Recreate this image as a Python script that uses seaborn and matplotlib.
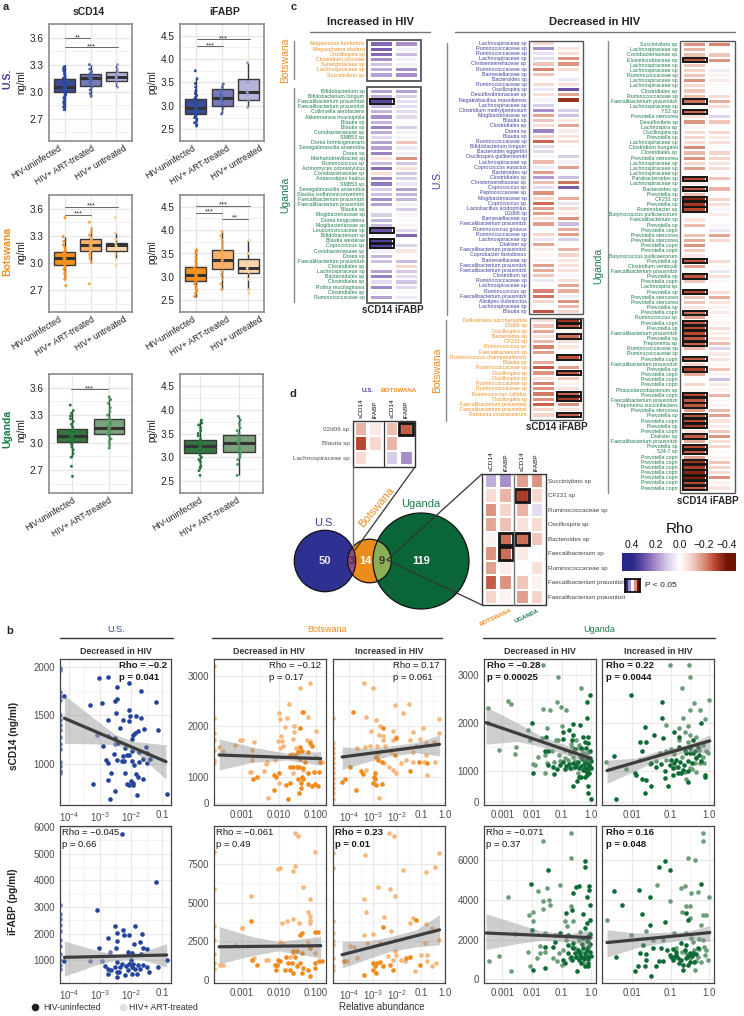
import numpy as np
import pandas as pd
import matplotlib
matplotlib.use('Agg')
import matplotlib.pyplot as plt
import seaborn as sns
from matplotlib.colors import LinearSegmentedColormap
from matplotlib.patches import Rectangle, Circle
from matplotlib.transforms import ScaledTranslation

W, H = 744, 1016

# ---- panel a: 5-number boxes (min, q1, median, q3, max) and strip values ----
groups3 = ['HIV-uninfected', 'HIV+ ART-treated', 'HIV+ untreated']
groups2 = groups3[:2]

us_s_box = [[2.80, 3.00, 3.05, 3.14, 3.28], [2.95, 3.06, 3.15, 3.20, 3.30], [3.05, 3.12, 3.165, 3.22, 3.30]]
us_i_box = [[2.57, 2.83, 2.96, 3.14, 3.58], [2.83, 3.00, 3.17, 3.37, 3.47], [2.97, 3.13, 3.29, 3.58, 3.92]]
bw_s_box = [[2.82, 2.98, 3.055, 3.116, 3.29], [3.00, 3.13, 3.20, 3.26, 3.38], [3.04, 3.13, 3.20, 3.225, 3.33]]
bw_i_box = [[2.58, 2.91, 3.04, 3.22, 3.58], [2.73, 3.16, 3.37, 3.58, 3.97], [2.73, 3.09, 3.18, 3.39, 3.78]]
ug_s_box = [[2.84, 3.01, 3.07, 3.15, 3.35], [2.94, 3.09, 3.16, 3.26, 3.50]]
ug_i_box = [[2.76, 3.10, 3.24, 3.37, 3.78], [2.62, 3.11, 3.31, 3.47, 3.86]]

us_s_pts = [[2.80, 2.83, 2.85, 2.87, 2.89, 2.91, 2.93, 2.95, 2.96, 2.97, 2.98, 3.0, 3.0, 3.01, 3.02, 3.03, 3.03, 3.04, 3.05,
             3.05, 3.06, 3.07, 3.08, 3.09, 3.1, 3.11, 3.12, 3.14, 3.15, 3.17, 3.19, 3.21, 3.23, 3.25, 3.27, 3.28],
            [2.95, 2.98, 3.02, 3.05, 3.08, 3.1, 3.12, 3.14, 3.15, 3.16, 3.18, 3.2, 3.22, 3.25, 3.3],
            [3.05, 3.1, 3.14, 3.16, 3.18, 3.22, 3.25, 3.3]]
us_i_pts = [[2.57, 2.6, 2.64, 2.68, 2.72, 2.75, 2.78, 2.8, 2.83, 2.85, 2.88, 2.9, 2.93, 2.95, 2.97, 3.0, 3.02, 3.05, 3.08,
             3.1, 3.14, 3.18, 3.22, 3.26, 3.3, 3.33, 3.4, 3.48, 3.58, 3.75],
            [2.83, 2.95, 3.02, 3.1, 3.15, 3.2, 3.25, 3.33, 3.4, 3.47],
            [2.97, 3.13, 3.25, 3.3, 3.5, 3.92]]
bw_s_pts = [[2.75, 2.82, 2.85, 2.88, 2.9, 2.93, 2.95, 2.97, 2.99, 3.0, 3.01, 3.02, 3.03, 3.04, 3.05, 3.06, 3.07, 3.08, 3.09,
             3.1, 3.11, 3.12, 3.14, 3.17, 3.2, 3.24, 3.29, 3.5],
            [2.77, 3.01, 3.05, 3.08, 3.1, 3.13, 3.15, 3.17, 3.18, 3.2, 3.21, 3.22, 3.24, 3.26, 3.28, 3.31, 3.34, 3.38, 3.45],
            [2.97, 3.04, 3.1, 3.15, 3.19, 3.22, 3.26, 3.33, 3.5]]
bw_i_pts = [[2.58, 2.65, 2.7, 2.75, 2.8, 2.85, 2.9, 2.93, 2.97, 3.0, 3.03, 3.05, 3.08, 3.12, 3.15, 3.2, 3.25, 3.3, 3.35,
             3.42, 3.5, 3.55, 3.58],
            [2.73, 2.85, 2.95, 3.05, 3.12, 3.2, 3.28, 3.35, 3.4, 3.46, 3.52, 3.58, 3.65, 3.72, 3.8, 3.88, 3.97],
            [2.65, 2.73, 2.95, 3.1, 3.18, 3.3, 3.5, 3.78]]
ug_s_pts = [[2.63, 2.74, 2.84, 2.88, 2.92, 2.95, 2.98, 3.0, 3.02, 3.04, 3.05, 3.06, 3.07, 3.08, 3.09, 3.1, 3.11, 3.12, 3.14,
             3.17, 3.2, 3.23, 3.26, 3.29, 3.32, 3.35, 3.41],
            [2.94, 2.98, 3.01, 3.04, 3.07, 3.09, 3.11, 3.13, 3.15, 3.16, 3.18, 3.2, 3.22, 3.24, 3.26, 3.3, 3.34, 3.38, 3.43, 3.47, 3.5]]
ug_i_pts = [[2.62, 2.72, 2.78, 2.82, 2.9, 2.95, 3.0, 3.05, 3.1, 3.13, 3.16, 3.2, 3.23, 3.25, 3.28, 3.3, 3.34, 3.38, 3.45,
             3.5, 3.56, 3.62, 3.68, 3.72, 3.78],
            [2.62, 2.85, 2.95, 3.0, 3.05, 3.1, 3.15, 3.2, 3.25, 3.3, 3.34, 3.38, 3.44, 3.5, 3.56, 3.62, 3.7, 3.78, 3.86]]

# ---- panel b: log10 abundance, value pairs ----
us_top_neg = [(-3.03,1890),(-2.74,1900),(-2.44,1796),(-2.06,1831),(-1.68,1752),(-1.2,1641),(-2.46,1669),(-2.52,1648),(-2.94,1624),(-3.32,1607),(-4.15,1700),
    (-2.05,1555),(-2.47,1520),(-2.03,1496),(-1.85,1493),(-1.69,1469),(-2.25,1451),(-2.73,1451),(-2.05,1441),(-1.13,1348),(-1.58,1358),(-2.35,1365),(-1.76,1338),(-1.87,1320),(-1.95,1296),
    (-1.98,1255),(-2.52,1262),(-2.41,1217),(-2.89,1182),(-1.52,1168),(-2.19,1165),(-2.55,1096),(-1.98,1134),(-2.05,1089),(-1.73,1124),(-1.49,1107),(-2.81,1037),(-2.75,1010),(-2.46,1037),
    (-2.3,1027),(-2.22,1027),(-2.14,1089),(-2.27,1079),(-1.98,1031),(-1.9,982),(-1.73,1013),(-1.6,1044),(-1.49,1010),(-1.38,1044),(-2.64,903),(-2.19,903),(-1.84,893),(-1.76,865),(-2.73,830),
    (-1.62,841),(-3.22,786),(-2.12,786),(-2.01,820),(-1.95,796),(-2.05,779),(-1.92,779),(-2.53,713),(-1.82,672),(-0.85,686),(-2.68,637)]
us_top_art = [(-3.09,1300),(-2.73,1286),(-2.52,1200)]
us_top_zero = [1990,1965,1740,1700,1660,1500,1450,1400,1350,1280,1200,1150,1020,980,920,900]

us_bot_neg = [(-2.3,5750),(-1.2,3925),(-3.1,2875),(-2.53,2290),(-1.86,2290),(-2.25,2125),(-2.46,2040),(-2.23,1960),(-2.06,1960),(-1.63,2000),(-2.73,1850),(-2.46,1725),(-1.9,1625),(-1.71,1690),
    (-2.49,1475),(-3.03,1475),(-1.6,1475),(-1.49,1440),(-4.16,960),(-2.09,1310),(-1.98,1275),(-1.69,1225),(-0.85,1000),(-1.13,750),(-2.84,790),(-2.73,690),(-2.73,500),(-2.65,650),(-2.52,750),
    (-2.44,375),(-2.46,560),(-2.38,560),(-2.35,750),(-2.19,440),(-2.09,625),(-2.05,875),(-1.98,750),(-1.98,500),(-1.87,690),(-1.82,500),(-1.76,810),(-1.71,690),(-1.6,810),(-1.49,750),(-1.41,560),
    (-2.17,775),(-2.28,875),(-1.92,875),(-2.01,1000),(-2.44,940)]
us_bot_art = [(-3.32,960),(-2.95,960),(-2.68,1310)]
us_bot_zero = [3060,2750,2560,2310,2100,1775,1525,1250,1000,810,690]

bd_top_neg = [(-1.35,2290),(-1.42,1960),(-1.15,1664),(-1.11,1612),(-1.42,1598),(-1.38,1520),(-1.47,1500),(-1.56,1434),(-1.69,1434),(-1.2,1500),(-0.88,1302),(-1.42,1348),(-1.29,1302),(-1.69,1204),
    (-1.6,1204),(-1.5,1190),(-1.44,1204),(-1.33,1171),(-1.2,1085),(-1.05,1105),(-0.92,1105),(-2.14,1039),(-1.98,1072),(-2.07,993),(-2.59,1006),(-2.7,954),(-1.38,1006),(-1.47,954),(-1.33,954),
    (-1.4,875),(-1.81,842),(-1.69,875),(-1.2,862),(-1.11,829),(-0.93,829),(-1.02,855),(-1.39,776),(-2.13,743),(-1.44,677),(-1.75,565)]
bd_top_art = [(-1.14,2862),(-1.42,2757),(-1.71,2441),(-1.37,2289),(-2,2256),(-1.96,2138),(-1.77,2158),(-1.2,2184),(-1.83,1980),(-1.59,2006),(-1.59,1895),(-0.98,1908),(-1.95,1816),(-2.01,1717),
    (-1.92,1717),(-1.62,1750),(-1.24,1730),(-1.14,1717),(-1.87,1612),(-1.96,1566),(-1.53,1566),(-2.73,1533),(-2.73,1335),(-2.32,1302),(-2.34,1256),(-2.41,1118),(-2.75,1105),(-2.1,1335),(-1.65,1454),
    (-1.42,1533),(-0.99,1401),(-0.84,1302),(-1.6,1072),(-2.28,592),(-1.98,888),(-1.2,1072),(-1.33,1138),(-2.67,1697),(-3.05,1730),(-3.61,1598),(-3.51,1520),(-3.18,1631),(-2.99,1730),(-2.78,1105)]
bd_top_zero = [3197,2158,1862,1730,1533,1335,1270]

bi_top_neg = [(-3.81,2289),(-2.57,1960),(-1.47,1125),(-2.89,1388),(-2.64,1302),(-2.09,1434),(-2.02,1763),(-1.08,1302),(-0.74,1270),(-2.78,1335),(-3.95,1204),(-3.5,1125),(-3.42,1059),(-2.91,1072),
    (-2.94,1006),(-2.91,954),(-4.29,895),(-4.14,960),(-3.01,875),(-2.89,842),(-2.61,855),(-3.7,743)]
bi_top_art = [(-3.35,2862),(-3.01,2757),(-2.09,2421),(-1.5,2441),(-1.74,2256),(-3.27,2184),(-2.89,2125),(-3.08,1908),(-2.71,2006),(-2.76,1829),(-2.57,1816),(-2.18,1908),(-1.33,1895),(-0.93,1974),
    (-0.23,2151),(-0.23,1875),(-2.05,1783),(-2.16,1730),(-1.47,1730),(-1.06,1743),(-3.33,1598),(-3.12,1612),(-2.84,1612),(-2.5,1618),(-2.6,1730),(-0.78,1664),(-0.44,1697),(-1.19,1612),(-3.67,1566),
    (-2.23,1500),(-2.78,1467),(-1.33,1500),(-1.33,1302),(-0.81,1434),(-1.61,1335),(-1.81,1270),(-0.89,1302),(-0.4,1302),(-2.54,1270),(-2.16,1138),(-2.32,1204),(-2.02,1072),(-0.75,1039),(-2.73,592),(-3.3,1138)]
bi_top_zero = [2158,1664,1566,1467,1368,1270,1171,1072,973,875,776,677,565]

bd_bot_neg = [(-2.75,3850),(-1.38,3040),(-0.93,3100),(-1.02,3100),(-1.42,2930),(-1.15,2080),(-1.6,1860),(-1.51,1860),(-1.38,1750),(-2.01,1330),(-1.96,1240),(-2.1,1010),(-2.07,680),(-1.8,1500),(-1.74,1110),
    (-1.65,1110),(-1.56,1500),(-1.69,680),(-1.83,680),(-1.42,1110),(-1.51,900),(-1.33,790),(-1.2,680),(-1.38,470),(-1.15,260),(-1.02,790),(-0.91,1220),(-0.84,1220),(-1.02,1110),(-2.59,1010),(-2.73,1330),
    (-1.6,470),(-2.05,1010)]
bd_bot_art = [(-1.56,9460),(-1.49,9290),(-1.02,8240),(-1.56,7360),(-1.62,7060),(-1.96,7210),(-2.01,7150),(-1.33,6030),(-1.14,5220),(-2.75,5440),(-3,3360),(-1.2,4370),(-1.15,4110),(-1.15,3890),(-1.14,3680),
    (-1.6,3940),(-1.77,3830),(-1.92,3680),(-1.46,3680),(-1.96,2460),(-1.87,2350),(-1.2,2440),(-2.28,1330),(-2.34,1280),(-2.68,1430),(-2.73,1280),(-1.6,1750),(-1.69,1500),(-1.02,1750),(-3.58,963),(-3.5,963),
    (-3.18,2290),(-2.99,3400)]
bd_bot_zero = [8260,5880,3470,2610,1690,1110,750]

bi_bot_neg = [(-2.6,3420),(-1.19,3890),(-3.37,360),(-2.89,470),(-3.01,680),(-2.84,1110),(-2.71,1160),(-2.57,900),(-2.98,1110),(-2.91,900),(-2.16,680),(-1.47,1500),(-1.61,1430),(-1.06,1010),(-4.22,1220),(-2.29,1010)]
bi_bot_art = [(-2.32,9460),(-2.12,9290),(-3.33,8070),(-0.23,8220),(-0.41,7320),(-0.78,7000),(-1.74,7100),(-2.8,6030),(-2.29,5860),(-2.09,5440),(-3.35,5220),(-3.27,4370),(-2.54,4070),(-1.33,4000),(-1.47,3720),
    (-0.78,3640),(-0.55,3360),(-3.01,3000),(-3.39,2930),(-2.23,3150),(-3.26,2400),(-3.94,2230),(-3.78,2140),(-2.71,2400),(-2.09,2610),(-0.23,2570),(-0.82,2400),(-2.09,1860),(-2.02,1650),(-2.36,1540),(-1.81,1330),
    (-1.65,1220),(-0.99,1650),(-0.74,1650),(-0.74,1220),(-0.53,900),(-0.37,1110),(-1.26,580),(-3.67,1430),(-4.08,1220),(-2.16,1280)]
bi_bot_zero = [8220,7210,3790,3040,2290,1430,900,680,2500]

ud_top_neg = [(-0.04,2570),(-0.13,2435),(-0.13,2095),(-2.01,1990),(-0.6,1970),(-0.38,1950),(-0.74,1850),(-0.97,1815),(-0.6,1745),(-0.27,1710),(-0.1,1710),(-1.53,1695),(-0.94,1655),(-0.66,1640),(-0.21,1605),(-0.1,1570),
    (-1.56,1400),(-1.45,1400),(-0.04,1410),(-0.33,1325),(-1.45,1120),(-1.28,1085),(-1.17,1035),(-1.98,960),(-1.25,925),(-0.89,1035),(-0.72,1050),(-0.55,1085),(-0.21,1190),(-0.1,1150),(-0.04,1085),(-0.33,1095),
    (-0.21,1050),(-0.1,1030),(-0.02,1190),(-0.33,875),(-0.21,860),(-0.41,875),(-0.6,685),(-0.47,790),(-0.1,680),(-0.12,540),(-0.02,410),(-0.16,945),
    (-0.45,1180),(-0.3,1240),(-0.25,1130),(-0.15,1240),(-0.08,1120),(-0.02,1060),(-0.18,990),(-0.28,1010),(-0.4,1050),(-0.5,1120),(-0.62,1160),(-0.75,1130),(-0.85,1100),(-0.95,1180),(-1.05,1120),(-0.07,960),(-0.13,900),(-0.03,1270),(-0.55,1450),(-0.35,1480),(-0.18,1480)]
ud_top_art = [(-1.62,3195),(-1.13,2950),(-0.35,2720),(-2.8,2460),(-2.72,2390),(-1.64,2290),(-1.39,2270),(-1.17,2430),(-1.03,2320),(-0.85,2270),(-2.15,1850),(-1.48,1885),(-3.11,1420),(-2.57,1340),(-2.54,1490),(-2.07,1640),
    (-1.67,1675),(-1.2,1640),(-1.11,1640),(-1,1930),(-1.79,1290),(-1.56,1330),(-1.96,1140),(-1.9,1120),(-1.56,940),(-1.51,1150),(-1.06,1190),(-1.34,1400),(-0.89,1430),(-0.72,1360),(-0.6,1290),(-0.43,1540),(-0.38,1290),
    (-0.66,1500),(-0.27,1360),(-0.78,1220),(-0.43,1500),(-3.49,2300),(-3.49,1990),(-0.16,1360),
    (-0.55,1210),(-0.65,1060),(-0.9,1260),(-1.1,1330),(-1.25,1180),(-0.45,960),(-0.3,1440),(-0.15,1070),(-0.7,1560),(-0.5,1640)]

ui_top_neg = [(-2.03,2570),(-1.22,2435),(-1.23,2095),(-1.67,1900),(-0.2,2000),(-1.43,1745),(-1.2,1675),(-0.9,1815),(-0.77,1710),(-1.81,1605),(-1.63,1590),(-1.75,1410),(-2.48,1305),(-2.43,410),(-0.54,755),(-1.67,540),
    (-1.5,680),(-1.07,685),(-1.16,840),(-1.63,805),(-1.76,820),(-1.9,910),(-1.92,960),(-1.37,1085),(-1.03,1120),(-0.9,1150),(-0.81,1085),(-0.94,1050),(-0.68,1015),(-0.72,945),(-0.59,1360),(-0.5,1360),(-0.42,1360),(-0.77,1500),
    (-0.42,1640),(-0.11,910),(-0.11,875),(-0.29,1500),(-0.37,1400),
    (-1.0,1230),(-0.85,1230),(-0.75,1180),(-0.65,1120),(-0.55,1210),(-0.45,1150),(-0.35,1270),(-0.62,1420),(-0.5,1480),(-0.25,1320),(-0.2,1210),(-1.25,1130),(-1.15,1000),(-0.55,1000),(-0.8,960),(-1.5,1150),(-0.95,900)]
ui_top_art = [(-1.03,3195),(-0.52,3195),(-0.5,2950),(-0.71,2720),(0,2470),(-0.5,2270),(-0.39,2410),(-0.23,2270),(-0.68,2095),(-0.11,2075),(-1.11,1955),(-0.77,1885),(-0.55,1920),(-0.63,1815),(-0.5,1745),(-2.68,1175),(-2.16,1030),
    (-1.81,1220),(-1.55,1140),(-1.37,1190),(-1.29,1360),(-1.11,1400),(-0.77,1640),(-0.5,1500),(-0.16,1535),(-0.07,1400),(-0.33,1290),(-0.37,1150),(-0.5,1050),(-0.63,980),(-0.85,1085),(-1.11,1220),(-0.03,1360),(-0.24,1150),(-0.33,980),
    (-0.45,1030),(-0.7,1280),(-0.25,1430),(-0.15,1280),(-0.9,1350),(-0.55,1600),(-0.35,1700),(-0.12,1150),(-1.0,1450),(-0.6,830)]

ud_bot_neg = [(-0.2,5960),(-0.2,5660),(-1.47,5490),(-2.02,4810),(-0.52,4660),(-0.4,4710),(-0.08,4490),(-0.08,4710),(-0.63,4330),(-0.16,4160),(-0.04,3710),(-0.65,3490),(-0.85,3320),(-0.29,3270),(-0.04,2990),(-0.16,2820),
    (-0.2,2570),(-2.01,2490),(-0.78,2240),(-1.06,2320),(-1.22,1900),(-1.56,1650),(-0.78,1740),(-0.6,1570),(-0.43,1400),(-0.27,1570),(-0.1,1650),(-0.04,1400),(-0.2,1320),(-0.38,1240),(-0.55,1320),(-0.78,1320),(-1.28,1650),
    (-1.95,480),(-1.56,570),(-0.94,985),(-0.89,820),(-0.47,430),(-0.2,650),(-0.1,650),(-0.33,820),
    (-0.5,1100),(-0.35,1100),(-0.25,1130),(-0.12,1130),(-0.02,1190),(-0.7,1130),(-0.45,1480),(-0.15,1480),(-0.05,1800),(-0.3,1800),(-0.15,1950),(-0.6,1850),(-0.1,1020),(-0.25,1010),(-0.4,980),(-0.12,820),(-0.65,950),(-0.03,2300),(-0.28,2100),(-0.12,2180)]
ud_bot_art = [(-0.7,7350),(-1.62,6950),(-0.7,6080),(-1.06,4740),(-1.79,4440),(-1.48,4580),(-2.81,4160),(-1.62,3960),(-1.42,3990),(-1.39,3720),(-1.62,3520),(-2.09,3240),(-1.96,3360),(-1.98,2920),(-0.7,3690),(-0.89,2910),(-0.6,2910),
    (-0.83,2660),(-2.57,2290),(-1.56,2320),(-1.22,2240),(-1.73,1690),(-2.15,1400),(-3.11,1200),(-2.07,650),(-2.72,430),(-1.84,1070),(-1.56,1400),(-1.28,1070),(-1.17,900),(-1,730),(-0.72,1070),(-0.55,1570),(-0.27,820),(-0.1,1990),
    (-0.43,1990),(-0.38,2400),(-3.45,900),(-1.73,1320),
    (-0.35,1400),(-0.65,1650),(-1.1,1350),(-0.95,1480),(-0.05,2150),(-0.5,1150),(-0.15,1250),(-0.85,2000)]

ui_bot_neg = [(-1.14,5960),(-1.3,5640),(-1.03,5490),(-2.48,4440),(-1.83,4490),(-0.2,4810),(-1.55,4160),(-2.27,3720),(-1.76,3260),(-1.16,2860),(-1.55,2740),(-0.55,2990),(-0.59,3320),(-2.43,1120),(-1.65,985),(-1.92,400),(-1.5,150),
    (-1.85,650),(-1.68,650),(-1.37,650),(-1.2,900),(-0.94,985),(-0.85,1240),(-1.03,1240),(-0.68,730),(-0.68,480),(-0.5,1320),(-0.42,1320),(-0.85,1400),(-0.72,1820),(-0.59,1740),(-1.81,1320),(-1.63,1290),(-1.46,1570),(-1.24,1570),(-1.72,1740),
    (-1.0,1100),(-0.9,1120),(-0.8,1080),(-0.72,950),(-0.6,1050),(-0.55,1180),(-0.45,1180),(-0.35,1300),(-0.3,1600),(-0.62,1500),(-0.55,700),(-0.78,830),(-1.1,1500),(-0.95,1550),(-0.4,850),(-1.3,900),(-0.5,880)]
ui_bot_art = [(-0.16,7350),(-0.16,6950),(-0.55,6080),(-0.37,6000),(-1.35,4740),(-0.72,4580),(-0.63,4710),(-0.46,4330),(-0.29,4410),(0,4160),(-1.03,3960),(-0.59,3690),(-0.5,3660),(-0.7,3360),(-0.5,3070),(-0.16,3240),(-0.07,3240),(-0.2,2740),
    (-2.66,2990),(-2.03,2240),(-1.63,2450),(-1.46,1990),(-1.2,1990),(-0.9,2320),(-0.59,2320),(-0.42,1900),(-0.16,1990),(-0.07,1490),(-0.03,985),(-0.33,900),(-0.5,1070),(-0.37,480),(-0.59,1320),(-0.85,1570),(-0.11,1240),
    (-0.25,1550),(-0.3,1100),(-0.2,850),(-0.12,1650),(-0.4,1500),(-0.55,1150),(-0.7,1400),(-0.25,2050),(-0.48,2100)]

# fit line ends and confidence band
us_top_fit = ([-4.15, -0.87], [1470, 1020])
us_top_band = ([-4.15, -3.2, -2.5, -1.9, -0.87], [1210, 1205, 1195, 1130, 840], [1710, 1470, 1300, 1230, 1195])
us_bot_fit = ([-4.15, -0.85], [1112, 1200])
us_bot_band = ([-4.15, -3.2, -2.5, -1.7, -0.85], [400, 800, 1000, 1040, 750], [1725, 1400, 1220, 1290, 1625])
bd_top_fit = ([-3.61, -0.86], [1434, 1362])
bd_top_band = ([-3.61, -2.7, -1.8, -0.86], [1138, 1290, 1335, 1236], [1750, 1590, 1470, 1500])
bi_top_fit = ([-4.28, -0.23], [1395, 1645])
bi_top_band = ([-4.28, -3.2, -2.3, -1.2, -0.23], [1151, 1300, 1414, 1480, 1414], [1598, 1560, 1610, 1680, 1829])
bd_bot_fit = ([-3.61, -0.86], [2160, 2230])
bd_bot_band = ([-3.61, -2.7, -2.0, -0.86], [1070, 1600, 1900, 1430], [3470, 2800, 2500, 2820])
bi_bot_fit = ([-4.28, -0.23], [1650, 3250])
bi_bot_band = ([-4.28, -3.2, -2.3, -1.2, -0.23], [790, 1380, 1860, 2150, 2290], [2500, 2530, 2800, 3250, 4220])
ud_top_fit = ([-3.55, -0.04], [2000, 1257])
ud_top_band = ([-3.55, -2.5, -1.7, -0.7, -0.04], [1550, 1610, 1500, 1300, 1153], [2330, 2000, 1720, 1500, 1397])
ui_top_fit = ([-2.66, 0.02], [1000, 1620])
ui_top_band = ([-2.66, -1.9, -1.37, -0.6, 0.02], [735, 1000, 1220, 1380, 1375], [1220, 1260, 1400, 1530, 1745])
ud_bot_fit = ([-3.55, -0.04], [2330, 2100])
ud_bot_band = ([-3.55, -2.5, -1.7, -0.7, -0.04], [1500, 1800, 1960, 1900, 1570], [3300, 2800, 2430, 2300, 2490])
ui_bot_fit = ([-2.66, 0.02], [1850, 2350])
ui_bot_band = ([-2.66, -1.9, -1.37, -0.6, 0.02], [1120, 1580, 1780, 2000, 1900], [2490, 2330, 2350, 2400, 2690])

# ---- panel c ----
ci_bw_names = ['Megamonas funiformis', 'Megasphaera elsdenii', 'Oscillospira sp', 'Clostridium citroniae',
               'Synergistaceae sp', 'Lachnospiraceae sp', 'Succinivibrio sp']
ci_bw_s = [.26, .28, .26, .2, .12, .15, .17]
ci_bw_i = [.2, .03, .13, .03, .03, .2, .2]
ci_bw_sig = []

ci_ug_names = ['Bifidobacterium sp', 'Bifidobacterium longum', 'Faecalibacterium prausnitzii', 'Faecalibacterium prausnitzii',
    'Collinsella aerofaciens', 'Akkermansia muciniphila', 'Blautia sp', 'Blautia sp', 'Coriobacteriaceae sp', 'SMB53 sp',
    'Dorea formicigenerans', 'Senegalimassilia anaerobia', 'Dorea sp', 'Methanobrevibacter sp', 'Ruminococcus sp',
    'Actinomyces odontolyticus', 'Coriobacteriaceae sp', 'Anaerostipes hadrus', 'SMB53 sp', 'Senegalimassilia anaerobia',
    'Slackia isoflavoniconvertens', 'Faecalibacterium prausnitzii', 'Faecalibacterium prausnitzii', 'Blautia sp',
    'Mogibacteriaceae sp', 'Dorea longicatena', 'Mogibacteriaceae sp', 'Leuconostocaceae sp', 'Bifidobacterium sp',
    'Blautia wexlerae', 'Coprococcus sp', 'Coriobacteriaceae sp', 'Dorea sp', 'Faecalibacterium prausnitzii', 'Clostridiales sp',
    'Lachnospiraceae sp', 'Bacteroidales sp', 'Clostridiales sp', 'Rothia mucilaginosa', 'Clostridiales sp', 'Ruminococcaceae sp']
ci_ug_s = [.17, .15, .33, .13, .14, .2, .14, .22, .15, .08, .17, .17, .22, -.06, .13, .25, -.08, .22, .24, .1, .12, .2, .17, .01,
           .1, .14, .13, .3, .03, .34, .34, .03, .14, .12, 0, .17, .22, .07, .21, .02, .17]
ci_ug_i = [.17, .1, .07, .07, .07, .08, 0, .1, .03, .02, -.12, .05, .03, -.2, .11, -.07, .11, .1, .05, .17, .14, .14, .03, .1,
           .02, .01, -.03, .09, .27, 0, .09, -.06, .01, .13, -.09, .11, .08, .11, .08, .01, .04]
ci_ug_sig = [2, 27, 29, 30]

cd_us_names = ['Lachnospiraceae sp', 'Ruminococcaceae sp', 'Ruminococcaceae sp', 'Lachnospiraceae sp', 'Christensenellaceae sp',
    'Ruminococcaceae sp', 'Barnesiellaceae sp', 'Bacteroides sp', 'Ruminococcaceae sp', 'Oscillospira sp', 'Desulfovibrionaceae sp',
    'Negativibacillus massiliensis', 'Lachnospiraceae sp', 'Clostridium methylpentosum', 'Mogibacteriaceae sp', 'Blautia sp',
    'Clostridiales sp', 'Dorea sp', 'Blautia sp', 'Ruminococcaceae sp', 'Bifidobacterium longum', 'Bacteroides eggerthii',
    'Oscillospira guilliermondii', 'Lachnospiraceae sp', 'Coprococcus eutactus', 'Bacteroides sp', 'Clostridiales sp',
    'Christensenellaceae sp', 'Coprococcus sp', 'Peptococcaceae sp', 'Mogibacteriaceae sp', 'Coprococcus sp', 'Lactobacillus acidophilus',
    '02d06 sp', 'Barnesiellaceae sp', 'Faecalibacterium prausnitzii', 'Ruminococcus gnavus', 'Ruminococcaceae sp', 'Lachnospiraceae sp',
    'Dialister sp', 'Faecalibacterium prausnitzii', 'Coprobacter fastidiosus', 'Barnesiellaceae sp', 'Faecalibacterium prausnitzii',
    'Faecalibacterium prausnitzii', 'Clostridium sp', 'Ruminococcaceae sp', 'Lachnospiraceae sp', 'Ruminococcus sp',
    'Faecalibacterium prausnitzii', 'Alistipes indistinctus', 'Lachnospiraceae sp', 'Blautia sp']
cd_us_s = [-.08, .2, .06, .07, -.12, -.22, -.12, 0, -.08, .05, -.07, .02, .1, .2, -.17, -.12, -.07, .22, -.1, -.26, .08, .08, .02,
           -.14, .04, -.18, .18, -.13, .07, -.2, -.09, -.25, -.18, -.18, -.07, -.18, 0, -.1, .05, -.17, -.04, -.02, -.03, -.18,
           -.16, -.12, .05, -.01, -.22, -.24, -.1, 0, -.28]
cd_us_i = [0, -.06, -.08, -.2, -.2, -.08, 0, .05, -.07, .3, -.17, -.34, 0, .1, .12, -.05, -.17, -.05, -.06, -.09, -.01, 0, .1, .03,
           -.18, 0, .12, -.24, .28, 0, -.16, .06, -.09, -.04, -.2, .13, -.16, -.18, .1, 0, -.15, -.1, -.06, -.07, -.07, .02, -.07,
           -.17, -.16, .04, -.2, -.14, -.1]

cd_bw_names = ['Defluviitalea saccharophila', '02d06 sp', 'Oscillospira sp', 'Bacteroides sp', 'CF231 sp', 'Ruminococcus sp',
    'Faecalibacterium sp', 'Ruminococcus champanellensis', 'Blautia sp', 'Ruminococcaceae sp', 'Oscillospira sp', 'Oscillospira sp',
    'Ruminococcaceae sp', 'Ruminococcaceae sp', 'Ruminococcus callidus', 'Oscillospira sp', 'Faecalibacterium prausnitzii',
    'Faecalibacterium prausnitzii', 'Ralstonia solanacearum']
cd_bw_s = [-.07, -.13, -.17, -.07, -.14, -.22, -.18, -.01, -.16, -.27, -.2, -.07, -.22, -.2, -.23, -.2, -.26, -.1, -.1]
cd_bw_i = [-.34, -.28, -.03, -.25, -.07, -.06, 0, -.29, 0, -.18, -.28, -.12, -.03, -.07, -.26, -.32, -.2, -.06, -.27]
cd_bw_sig = [0, 1, 3, 7, 10, 14, 15, 18]

cd_ug_names = ['Succinivibrio sp', 'Lachnospiraceae sp', 'Coriobacteriaceae sp', 'Elusimicrobiaceae sp', 'Lachnospiraceae sp',
    'Lachnospiraceae sp', 'Ruminococcaceae sp', 'Lachnospiraceae sp', 'Lachnospiraceae sp', 'Clostridiales sp', 'Ruminococcaceae sp',
    'Faecalibacterium prausnitzii', 'Lachnospiraceae sp', 'YS2 sp', 'Prevotella stercorea', 'Desulfovibrio sp', 'Lachnospira sp',
    'Oscillospira sp', 'Prevotella sp', 'Lachnospiraceae sp', 'Clostridium hungatei', 'Clostridiales sp', 'Prevotella stercorea',
    'Lachnospiraceae sp', 'Lachnospiraceae sp', 'Lachnospiraceae sp', 'Parabacteroides sp', 'Lachnospiraceae sp', 'Bacteroides sp',
    'Prevotella sp', 'CF231 sp', 'Prevotella sp', 'Ruminobacter sp', 'Butyricicoccus pullicaecorum', 'Faecalibacterium sp',
    'Prevotella sp', 'Prevotella copri', 'Prevotella stercorea', 'Prevotella stercorea', 'Prevotella copri', 'Prevotella copri',
    'Butyricicoccus pullicaecorum', 'Prevotella sp', 'Clostridium ventriculi', 'Faecalibacterium prausnitzii', 'Prevotella sp',
    'Prevotella copri', 'Lachnospira sp', 'Prevotella sp', 'Prevotella stercorea', 'Prevotella stercorea', 'Prevotella sp',
    'Prevotella copri', 'Ruminococcus sp', 'Prevotella copri', 'Prevotella sp', 'Faecalibacterium prausnitzii', 'Prevotella sp',
    'Treponema sp', 'Ruminococcaceae sp', 'Ruminococcaceae sp', 'Prevotella copri', 'Faecalibacterium prausnitzii', 'Prevotella sp',
    'Prevotella copri', 'Prevotella copri', 'Prevotella copri', 'Phascolarctobacterium sp', 'Prevotella copri',
    'Faecalibacterium prausnitzii', 'Treponema succinifaciens', 'Prevotella stercorea', 'Prevotella sp', 'Prevotella copri',
    'Prevotella sp', 'Prevotella copri', 'Dialister sp', 'Faecalibacterium prausnitzii', 'Prevotella sp', '524-7 sp',
    'Prevotella copri', 'Prevotella copri', 'Prevotella copri', 'Prevotella copri', 'Prevotella copri', 'Prevotella copri', 'Prevotella copri']
cd_ug_s = [-.2, -.15, -.13, -.28, -.12, -.1, -.12, -.2, -.09, -.12, -.13, -.25, -.01, -.26, -.07, -.2, -.03, -.08, -.1, -.08, -.21,
           -.14, -.2, -.1, -.18, 0, -.3, -.04, -.27, -.13, -.37, -.33, -.3, 0, -.06, -.14, 0, -.13, -.16, -.2, -.11, -.05, -.28,
           -.18, -.01, -.28, -.12, 0, -.3, -.12, -.12, -.06, -.25, -.17, -.28, -.3, -.3, -.28, -.26, -.14, 0, -.27, -.1, -.32,
           -.16, 0, -.09, -.02, -.3, -.28, -.28, -.18, -.28, -.3, -.33, -.06, -.27, -.16, -.3, -.28, -.18, -.34, -.32, -.37, -.38, -.3, -.28]
cd_ug_i = [-.22, 0, -.12, -.2, 0, .04, -.03, -.05, -.01, 0, -.08, -.16, -.08, 0, .09, -.12, .01, -.09, -.05, -.07, 0, -.1, -.1, -.06,
           -.08, .01, -.12, 0, -.15, 0, -.1, -.07, .02, -.05, 0, .02, .05, -.17, -.09, 0, 0, 0, -.09, -.01, .05, -.07, -.02, 0,
           -.07, -.16, -.06, -.03, -.05, -.01, -.02, -.08, -.04, -.06, -.14, .09, -.05, -.06, -.02, -.12, -.02, .12, -.05, -.03,
           -.15, -.02, -.03, -.14, -.18, -.06, -.05, -.12, -.2, -.07, -.1, -.01, -.02, -.12, -.1, -.08, -.2, -.03, -.06]
cd_ug_sig = [3, 11, 13, 26, 28, 30, 31, 32, 42, 45, 48, 52, 54, 55, 56, 57, 58, 61, 63, 68, 69, 70, 72, 73, 74, 76, 78, 79, 81, 82, 83, 84, 85, 86]

# ---- panel d ----
d1_names = ['02d06 sp', 'Blautia sp', 'Lachnospiraceae sp']
d1_us = [[-.15, -.05], [-.3, -.09], [-.08, 0]]
d1_bw = [[-.13, -.27], [-.15, 0], [.1, .2]]
d2_names = ['Succinivibrio sp', 'CF231 sp', 'Ruminococcaceae sp', 'Oscillospira sp', 'Bacteroides sp', 'Faecalibacterium sp',
            'Ruminococcaceae sp', 'Faecalibacterium prausnitzii', 'Faecalibacterium prausnitzii']
d2_bw = [[.15, .2], [-.08, -.15], [-.2, -.1], [-.17, -.13], [-.03, -.25], [-.2, -.25], [-.18, -.04], [-.27, -.2], [-.1, -.03]]
d2_ug = [[-.18, -.2], [-.32, -.09], [-.15, .07], [-.07, -.08], [-.25, -.12], [-.05, .005], [0, -.07], [-.12, -.03], [-.18, -.1]]
venn_counts = ['50', '3', '14', '9', '119']
rho_ticks = [.4, .2, 0, -.2, -.4]
rho_labels = ['0.4', '0.2', '0.0', '\u22120.2', '\u22120.4']

C_US = '#3f3f9f'
C_BW = '#f28c1e'
C_UG = '#1c7d4b'
GREY_TXT = '#4d4d4d'

sns.set_theme(style='whitegrid')
plt.rcParams['font.family'] = ['Liberation Sans', 'DejaVu Sans']
plt.rcParams['mathtext.default'] = 'regular'
plt.rcParams['axes.unicode_minus'] = True

fig = plt.figure(figsize=(W / 100, H / 100), dpi=100)
rho_cmap = LinearSegmentedColormap.from_list(
    'rho', ['#701505', '#b9472f', '#dc9480', '#f5d3c9', '#ffffff', '#d9cee8', '#a88fca', '#6a52a6', '#29298c'])


def px_ax(x0, y0, x1, y1):
    return fig.add_axes([x0 / W, 1 - y1 / H, (x1 - x0) / W, (y1 - y0) / H])


# overlay in pixel units for labels, rules, venn
ov = px_ax(0, 0, W, H)
ov.set_xlim(0, W)
ov.set_ylim(H, 0)
ov.axis('off')
ov.set_zorder(20)


def box_panel(rect, labels, box, pts, fills, dots, ylim, yticks, label_dx, xlim=None):
    ax = px_ax(*rect)
    df = pd.DataFrame({'g': [l for l, b in zip(labels, box) for _ in b], 'v': [v for b in box for v in b]})
    sns.boxplot(data=df, x='g', y='v', hue='g', order=labels, hue_order=labels, palette=fills, saturation=1, width=0.8,
                whis=(0, 100), showcaps=False, showfliers=False, linewidth=1.0, linecolor='#3a3a3a',
                medianprops={'linewidth': 2.2, 'color': '#333333'}, legend=False, ax=ax)
    dp = pd.DataFrame({'g': [l for l, p in zip(labels, pts) for _ in p], 'v': [v for p in pts for v in p]})
    sns.stripplot(data=dp, x='g', y='v', hue='g', order=labels, hue_order=labels, palette=dots, size=2.1, jitter=0.05,
                  linewidth=0, legend=False, ax=ax, zorder=5)
    ax.set_xlim(*(xlim or (-0.6, len(labels) - 0.4)))
    ax.set_ylim(*ylim)
    ax.set_yticks(yticks)
    step = yticks[1] - yticks[0]
    ax.set_yticks([t + step / 2 for t in yticks] + [yticks[0] - step / 2], minor=True)
    ax.grid(True, which='major', color='#e6e6e6', lw=0.9)
    ax.grid(True, which='minor', axis='y', color='#efefef', lw=0.6)
    ax.set_xlabel('')
    ax.set_ylabel('')
    ax.set_axisbelow(True)
    ax.tick_params(axis='y', which='major', length=2.5, width=0.7, color='#333333', labelsize=7.2, pad=1.5, labelcolor='#222222')
    ax.tick_params(axis='y', which='minor', length=0)
    ax.tick_params(axis='x', length=0, pad=2, labelsize=6.2, labelcolor='#222222')
    ax.set_yticklabels([f'{t:.1f}' for t in yticks])
    plt.setp(ax.get_xticklabels(), rotation=31, ha='right', rotation_mode='anchor')
    for lab, dx in zip(ax.get_xticklabels(), label_dx):
        lab.set_transform(lab.get_transform() + ScaledTranslation(dx / 100, 0, fig.dpi_scale_trans))
    for s in ax.spines.values():
        s.set_visible(True)
        s.set_color('#8c8c8c')
        s.set_linewidth(1.2)
    return ax


US_FILL = ['#3b4a93', '#7678b8', '#b5b5d9']
US_DOT = ['#2a4aa0', '#4e68ae', '#8f9ccb']
BW_FILL = ['#f5921e', '#fbb36b', '#fcd6ae']
BW_DOT = ['#f58f1f', '#f7a654', '#fbcb9b']
UG_FILL = ['#35753f', '#7aa27c']
UG_DOT = ['#1f7a3d', '#4f9560']
s_ticks = [2.7, 3.0, 3.3, 3.6]
i_ticks = [2.5, 3.0, 3.5, 4.0, 4.5]
s_dx, i_dx = (-6, 1, 7), (-3, 5, 11)

box_panel((49, 24, 132, 141), groups3, us_s_box, us_s_pts, US_FILL, US_DOT, (2.454, 3.654), s_ticks, s_dx)
box_panel((180, 24, 264, 141), groups3, us_i_box, us_i_pts, US_FILL, US_DOT, (2.406, 4.6), i_ticks, i_dx)
box_panel((49, 195, 132, 312), groups3, bw_s_box, bw_s_pts, BW_FILL, BW_DOT, (2.459, 3.649), s_ticks, s_dx)
box_panel((180, 195, 264, 312), groups3, bw_i_box, bw_i_pts, BW_FILL, BW_DOT, (2.41, 4.587), i_ticks, i_dx)
box_panel((49, 374, 132, 493), groups2, ug_s_box, ug_s_pts, UG_FILL, UG_DOT, (2.448, 3.66), s_ticks, (1, -1))
box_panel((180, 374, 263, 493), groups2, ug_i_box, ug_i_pts, UG_FILL, UG_DOT, (2.41, 4.61), i_ticks, (0, -2), (-0.51, 1.61))

# significance bars of panel a: x0, x1, y, stars
sig_bars = [(65, 90, 38, '**'), (65, 118, 47, '***'), (197, 250, 39, '***'), (197, 223, 46, '***'),
            (65, 118, 206.7, '***'), (65, 91, 214.7, '***'), (196, 250, 205.7, '***'), (196, 222, 212.7, '***'),
            (222, 248, 218.7, '**'), (71, 108, 389, '***')]
for x0, x1, y, st in sig_bars:
    ov.plot([x0, x1], [y, y], color='#666666', lw=0.7)
    ov.text((x0 + x1) / 2, y - 0.5, st, ha='center', va='center', fontsize=5.5, color='#333333')

ov.text(89, 12, 'sCD14', ha='center', va='center', fontsize=7.5, fontweight='bold')
ov.text(225, 12, 'iFABP', ha='center', va='center', fontsize=7.5, fontweight='bold')
for y, yu, txt, col in [(79, 82, 'U.S.', C_US), (251, 252, 'Botswana', C_BW), (429, 430, 'Uganda', C_UG)]:
    ov.text(7, y, txt, rotation=90, ha='center', va='center', fontsize=7.5, fontweight='bold', color=col)
    ov.text(21, yu, 'ng/ml', rotation=90, ha='center', va='center', fontsize=7, color='#222222')
    ov.text(152, yu, 'pg/ml', rotation=90, ha='center', va='center', fontsize=7, color='#222222')
for x, y, t in [(6, 7, 'a'), (294, 7, 'c'), (10, 631, 'b'), (293, 394, 'd')]:
    ov.text(x, y, t, ha='center', va='center', fontsize=8, fontweight='bold')


def heat(rect, rows, names, sig=(), color='#333333', fs=3.8, pad=3, vgap=2.9, col=0, sig_lw=1.4):
    ax = px_ax(*rect)
    sns.heatmap(np.array(rows), cmap=rho_cmap, vmin=-0.4, vmax=0.4, cbar=False, linewidths=1.4, linecolor='white',
                xticklabels=False, yticklabels=names, ax=ax)
    ax.vlines(range(np.array(rows).shape[1] + 1), 0, len(rows), color='white', lw=vgap)
    ax.tick_params(axis='y', length=0, pad=pad, labelsize=fs, labelcolor=color, rotation=0)
    ax.set_xlabel('')
    ax.set_ylabel('')
    for r, c in [(s, col) if not isinstance(s, tuple) else s for s in sig]:
        ax.add_patch(Rectangle((c + 0.02, r + 0.08), 0.96, 0.84, fill=False, ec='#151515', lw=sig_lw, zorder=6, clip_on=False))
    return ax


def frame(x0, y0, x1, y1, lw=1.0, ec='#555555'):
    ov.add_patch(Rectangle((x0, y0), x1 - x0, y1 - y0, fill=False, ec=ec, lw=lw))


def rows_of(a, b):
    return [[p, q] for p, q in zip(a, b)]


# heat axes span first row centre - pitch/2 .. last row centre + pitch/2
heat((369, 41.4, 419, 77.6), rows_of(ci_bw_s, ci_bw_i), ci_bw_names, ci_bw_sig, C_BW, pad=3.2)
heat((369, 88.7, 419, 300), rows_of(ci_ug_s, ci_ug_i), ci_ug_names, ci_ug_sig, C_UG, pad=3.2)
heat((531, 40.7, 581, 314.3), rows_of(cd_us_s, cd_us_i), cd_us_names, (), C_US, pad=3.2)
heat((531, 318.1, 581, 417.6), rows_of(cd_bw_s, cd_bw_i), cd_bw_names, [(r, 1) for r in cd_bw_sig], C_BW, pad=3.2)
heat((682, 42.1, 732, 490.6), rows_of(cd_ug_s, cd_ug_i), cd_ug_names, cd_ug_sig, C_UG, pad=3.2)
frame(367, 40, 421, 81, 1.3)
frame(367, 87, 421, 303, 1.3)
frame(528.5, 41, 583, 314)
frame(529.5, 318, 583, 420)
frame(680, 41, 735, 493)

for x, y in [(393, 310), (557, 427), (708, 501)]:
    ov.text(x, y, 'sCD14 iFABP', ha='center', va='center', fontsize=7, fontweight='bold')
ov.text(370, 22, 'Increased in HIV', ha='center', va='center', fontsize=8, fontweight='bold', color='#222222')
ov.text(595, 22, 'Decreased in HIV', ha='center', va='center', fontsize=8, fontweight='bold', color='#222222')
ov.plot([310, 430], [32, 32], color='#777777', lw=1)
ov.plot([455, 735], [32, 32], color='#777777', lw=1)
for x, y0, y1 in [(294, 41, 79), (294, 88, 302), (447, 43, 315), (446, 320, 421), (608, 41, 493)]:
    ov.plot([x, x], [y0, y1], color='#888888', lw=1)
for x, y, t, c in [(285, 60, 'Botswana', C_BW), (285, 195, 'Uganda', C_UG), (437, 179, 'U.S.', C_US),
                   (437, 370, 'Botswana', C_BW), (598, 266, 'Uganda', C_UG)]:
    ov.text(x, y, t, rotation=90, ha='center', va='center', fontsize=7.5, color=c, fontweight='medium')

# panel d small heatmaps
heat((353.7, 421.8, 382.7, 465.3), d1_us, d1_names, (), '#555555', fs=4.6, pad=3, vgap=3)
heat((384.7, 421.8, 413.7, 465.3), d1_bw, False, [(0, 1)], vgap=3, sig_lw=2)
frame(353, 421, 415, 467, 1.0, '#333333')
ov.plot([383.5, 383.5], [421, 467], color='#333333', lw=0.9)
heat((483.7, 473.7, 513, 604.2), [r for r in d2_bw], False, [(4, 1), (5, 1)], vgap=3, sig_lw=2)
ax_d2 = heat((515, 473.7, 544.3, 604.2), [r for r in d2_ug], d2_names, [(1, 0), (4, 0)], '#444444', fs=4.5, vgap=3, sig_lw=2)
ax_d2.yaxis.tick_right()
ax_d2.tick_params(axis='y', length=0, pad=3, labelsize=4.5, labelcolor='#444444', rotation=0, left=False, right=False)
frame(482, 474, 546, 605, 1.0, '#333333')
ov.plot([514, 514], [474, 605], color='#777777', lw=1)
for xs, y in [((361, 375, 392, 406), 418), ((491, 506, 522, 536), 471)]:
    for x, lab in zip(xs, ['sCD14', 'iFABP'] * 2):
        ov.text(x, y, lab, rotation=90, ha='center', va='bottom', fontsize=4.6, color='#111111', fontweight='medium')
ov.text(368, 391, 'U.S.', ha='center', va='center', fontsize=4.5, fontweight='bold', color=C_US)
ov.text(399, 391, 'BOTSWANA', ha='center', va='center', fontsize=4.5, fontweight='bold', color=C_BW)
ov.text(496, 617, 'BOTSWANA', rotation=25, ha='center', va='center', fontsize=4.3, fontweight='bold', color=C_BW)
ov.text(527, 616, 'UGANDA', rotation=25, ha='center', va='center', fontsize=4.3, fontweight='bold', color=C_UG)

# venn
c_us = Circle((325, 561), 30.7, fc='#2e3192', ec='none')
c_bw = Circle((369.5, 561), 21.8, fc='#ec8c1c', ec='none')
c_ug = Circle((421, 561), 48, fc='#0a6638', ec='none')
for c in (c_us, c_bw, c_ug):
    ov.add_patch(c)
ov1 = Circle((369.5, 561), 21.8, fc='#9c4a86', ec='none')
ov.add_patch(ov1)
ov1.set_clip_path(c_us)
ov2 = Circle((369.5, 561), 21.8, fc='#8cae58', ec='none')
ov.add_patch(ov2)
ov2.set_clip_path(c_ug)
for c0, r in [((325, 561), 30.7), ((369.5, 561), 21.8), ((421, 561), 48)]:
    ov.add_patch(Circle(c0, r, fill=False, ec='#111111', lw=0.9))
for (x, t, c) in zip([325, 352, 365.5, 381.5, 421], venn_counts, ['#e8e8f0', '#333333', 'white', '#333333', 'white']):
    ov.text(x, 560.5, t, ha='center', va='center', fontsize=8, fontweight='bold', color=c)
ov.text(325, 523, 'U.S.', ha='center', va='center', fontsize=8, color=C_US)
ov.text(421, 504, 'Uganda', ha='center', va='center', fontsize=8, color=C_UG)
ov.text(377, 507, 'Botswana', rotation=50, ha='center', va='center', fontsize=8, color=C_BW)
ov.plot([353, 353], [467, 547], color='#777777', lw=1)
ov.plot([415, 355], [467, 550], color='#333333', lw=0.9)
ov.plot([482, 387, 482], [474, 560, 605], color='#333333', lw=0.9)

# colour bar (ends run a little past the +-0.4 ticks, colours clamp there) and P legend
cax = px_ax(622, 553, 736, 571)
cax.imshow(np.linspace(0.485, -0.475, 256)[None, :], cmap=rho_cmap, vmin=-.4, vmax=.4, aspect='auto', extent=[0.485, -0.475, 0, 1])
cax.set_xlim(0.485, -0.475)
cax.set_yticks([])
cax.set_xticks(rho_ticks)
cax.set_xticklabels(rho_labels)
cax.xaxis.set_ticks_position('top')
cax.tick_params(length=0, pad=2, labelsize=7.5, labelcolor='#111111')
cax.grid(False)
for s in cax.spines.values():
    s.set_visible(False)
ov.text(680, 529, 'Rho', ha='center', va='center', fontsize=11, color='#111111')
pax = px_ax(625, 579, 640, 592)
sns.heatmap([[.4, .2, 0, -.2, -.4]], cmap=rho_cmap, vmin=-.4, vmax=.4, cbar=False, xticklabels=False, yticklabels=False, ax=pax)
for s in pax.spines.values():
    s.set_visible(True)
    s.set_color('black')
    s.set_linewidth(1.2)
ov.text(645, 585.5, 'P < 0.05', ha='left', va='center', fontsize=6, color='#222222')


def scatter_panel(rect, neg, art, zeros, fit, band, colors, xlim, xticks, xlabs, ylim, yticks, ylabs, showy):
    ax = px_ax(*rect)
    ax.set_axisbelow(True)
    dn = pd.DataFrame(neg, columns=['x', 'y'])
    da = pd.DataFrame(art, columns=['x', 'y'])
    dz = pd.DataFrame({'x': [xlim[0]] * len(zeros), 'y': zeros})
    sns.scatterplot(data=da, x='x', y='y', color=colors[1], s=11, linewidth=0, ax=ax)
    sns.scatterplot(data=dn, x='x', y='y', color=colors[0], s=11, linewidth=0, ax=ax)
    if len(dz):
        sns.scatterplot(data=dz, x='x', y='y', color=colors[1], s=11, linewidth=0, ax=ax)
    ax.fill_between(band[0], band[1], band[2], color='#8c8c8c', alpha=0.42, linewidth=0, zorder=4)
    sns.lineplot(x=fit[0], y=fit[1], color='#3d3d3d', lw=2.3, ax=ax, zorder=5, errorbar=None)
    ax.set_xlim(*xlim)
    ax.set_ylim(*ylim)
    ax.set_xticks(xticks)
    ax.set_xticklabels(xlabs)
    ax.set_yticks(yticks)
    ax.set_yticklabels(ylabs if showy else [])
    xm = [(a + b) / 2 for a, b in zip(xticks, xticks[1:])]
    ym = [(a + b) / 2 for a, b in zip(yticks[1:], yticks[2:])]
    ax.set_xticks(xm, minor=True)
    ax.set_yticks(ym, minor=True)
    ax.grid(True, which='major', color='#e9e9e9', lw=0.9)
    ax.grid(True, which='minor', color='#f3f3f3', lw=0.6)
    ax.set_xlabel('')
    ax.set_ylabel('')
    ax.tick_params(axis='both', which='major', length=2, width=0.6, color='#333333', labelsize=7, labelcolor=GREY_TXT, pad=1.5)
    ax.tick_params(axis='both', which='minor', length=0)
    if not showy:
        ax.tick_params(axis='y', which='major', length=0)
    for s in ax.spines.values():
        s.set_visible(True)
        s.set_color('#444444')
        s.set_linewidth(0.9)
    return ax


BLUE = ('#22449a', '#6a80bb')
ORG = ('#f28a1c', '#f8b67a')
GRN = ('#0e6b35', '#6c9d78')
T = [487, 1000, 2000, 3000]
TL = ['0', '1000', '2000', '3000']
exp_l = ['$10^{-4}$', '$10^{-3}$', '$10^{-2}$', '0.1']
TOP, BOT = (659, 805), (826, 983)

scatter_panel((60, TOP[0], 171, TOP[1]), us_top_neg, us_top_art, us_top_zero, us_top_fit, us_top_band, BLUE, (-4.29, -0.71),
              [-4, -3, -2, -1], exp_l, (572, 2083), [1000, 1500, 2000], ['1000', '1500', '2000'], True)
scatter_panel((60, BOT[0], 171, BOT[1]), us_bot_neg, us_bot_art, us_bot_zero, us_bot_fit, us_bot_band, BLUE, (-4.29, -0.71),
              [-4, -3, -2, -1], exp_l, (150, 6037), [1000, 2000, 3000, 4000, 5000, 6000], ['1000', '2000', '3000', '4000', '5000', '6000'], True)
scatter_panel((214, TOP[0], 326, TOP[1]), bd_top_neg, bd_top_art, bd_top_zero, bd_top_fit, bd_top_band, ORG, (-3.75, -0.72),
              [-3, -2, -1], ['0.001', '0.010', '0.100'], (447, 3329), T, TL, True)
scatter_panel((214, BOT[0], 326, BOT[1]), bd_bot_neg, bd_bot_art, bd_bot_zero, bd_bot_fit, bd_bot_band, ORG, (-3.75, -0.72),
              [-3, -2, -1], ['0.001', '0.010', '0.100'], (-170, 9930), [0, 2500, 5000, 7500], ['0', '2500', '5000', '7500'], True)
scatter_panel((333, TOP[0], 445, TOP[1]), bi_top_neg, bi_top_art, bi_top_zero, bi_top_fit, bi_top_band, ORG, (-4.66, -0.04),
              [-4, -3, -2, -1, 0], exp_l + ['1.0'], (447, 3329), T, TL, False)
scatter_panel((333, BOT[0], 445, BOT[1]), bi_bot_neg, bi_bot_art, bi_bot_zero, bi_bot_fit, bi_bot_band, ORG, (-4.66, -0.04),
              [-4, -3, -2, -1, 0], exp_l + ['1.0'], (-170, 9930), [0, 2500, 5000, 7500], [], False)
scatter_panel((484, TOP[0], 596, TOP[1]), ud_top_neg, ud_top_art, [], ud_top_fit, ud_top_band, GRN, (-3.62, 0.16),
              [-3, -2, -1, 0], ['0.001', '0.01', '0.1', '1.0'], (282, 3328), [352, 1000, 2000, 3000], TL, True)
scatter_panel((484, BOT[0], 596, BOT[1]), ud_bot_neg, ud_bot_art, [], ud_bot_fit, ud_bot_band, GRN, (-3.62, 0.16),
              [-3, -2, -1, 0], ['0.001', '0.01', '0.1', '1.0'], (-180, 7700), [0, 2000, 4000, 6000], ['0', '2000', '4000', '6000'], True)
scatter_panel((602, TOP[0], 714, TOP[1]), ui_top_neg, ui_top_art, [], ui_top_fit, ui_top_band, GRN, (-2.79, 0.13),
              [-2, -1, 0], ['0.01', '0.1', '1.0'], (282, 3328), [352, 1000, 2000, 3000], TL, False)
scatter_panel((602, BOT[0], 714, BOT[1]), ui_bot_neg, ui_bot_art, [], ui_bot_fit, ui_bot_band, GRN, (-2.79, 0.13),
              [-2, -1, 0], ['0.01', '0.1', '1.0'], (-180, 7700), [0, 2000, 4000, 6000], [], False)

# stats text: x, y of first line, rho, p, bold
stats = [(119, 665.7, '\u22120.2', '0.041', True), (62, 832.7, '\u22120.045', '0.66', False),
         (269, 665.7, '\u22120.12', '0.17', False), (216, 832.7, '\u22120.061', '0.49', False),
         (393, 665.7, '0.17', '0.061', False), (335, 832.7, '0.23', '0.01', True),
         (487, 665.7, '\u22120.28', '0.00025', True), (486, 832.7, '\u22120.071', '0.37', False),
         (605.7, 665.7, '0.22', '0.0044', True), (605.7, 832.7, '0.16', '0.048', True)]
for x, y, r, p, b in stats:
    w = 'bold' if b else 'normal'
    ov.text(x, y, f'Rho = {r}', ha='left', va='center', fontsize=6.8, fontweight=w, color='#1a1a1a')
    ov.text(x, y + 11.5, f'p = {p}', ha='left', va='center', fontsize=6.8, fontweight=w, color='#1a1a1a')

for x, t in [(116, 'Decreased in HIV'), (269, 'Decreased in HIV'), (389, 'Increased in HIV'),
             (540, 'Decreased in HIV'), (658, 'Increased in HIV')]:
    ov.text(x, 651, t, ha='center', va='center', fontsize=6.3, fontweight='bold', color='#333333')
for x0, x1, xc, t, c in [(60, 173, 116, 'U.S.', C_US), (212, 442, 327, 'Botswana', C_BW), (483, 715, 599, 'Uganda', C_UG)]:
    ov.plot([x0, x1], [638, 638], color='#333333', lw=1)
    ov.text(xc, 629, t, ha='center', va='center', fontsize=6.5, fontweight='medium', color=c)
ov.text(14, 736, 'sCD14 (ng/ml)', rotation=90, ha='center', va='center', fontsize=7.3, fontweight='bold', color='#222222')
ov.text(13, 902, 'iFABP (pg/ml)', rotation=90, ha='center', va='center', fontsize=7.3, fontweight='bold', color='#222222')
ov.text(382, 1007.5, 'Relative abundance', ha='center', va='center', fontsize=7, color='#333333')
ov.scatter([35], [1007], s=30, color='#222222', linewidth=0)
ov.text(43, 1007, 'HIV-uninfected', ha='left', va='center', fontsize=6.3, color='#333333')
ov.scatter([123], [1007], s=30, color='#e0e0e0', linewidth=0)
ov.text(129, 1007, 'HIV+ ART-treated', ha='left', va='center', fontsize=6.3, color='#333333')

fig.savefig('out.png', dpi=100)
